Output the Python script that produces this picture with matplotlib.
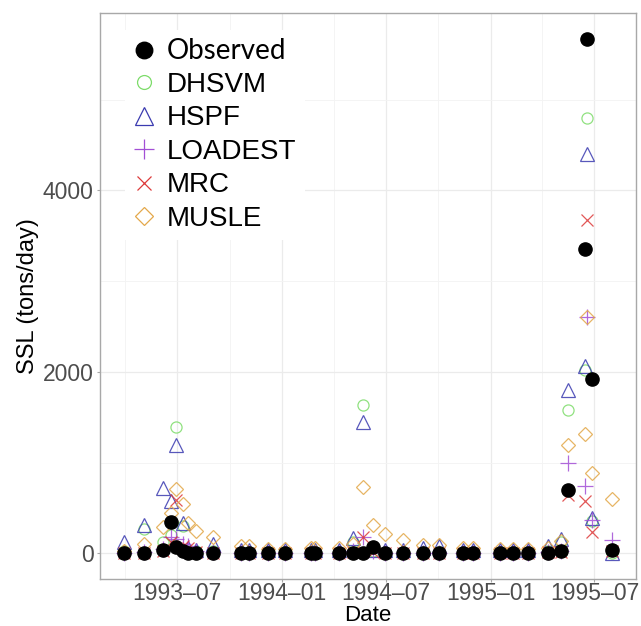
import matplotlib
matplotlib.use("Agg")
import matplotlib.pyplot as plt
import matplotlib.dates as mdates
import numpy as np
import pandas as pd

# Sampling dates and suspended sediment load (tons/day) per source
dates = [
    "1993-03-31", "1993-05-04", "1993-06-07", "1993-06-20", "1993-06-29",
    "1993-07-11", "1993-07-21", "1993-08-03", "1993-09-02", "1993-10-21",
    "1993-11-04", "1993-12-07", "1994-01-05", "1994-02-21", "1994-02-28",
    "1994-04-11", "1994-05-04", "1994-05-23", "1994-06-09", "1994-06-30",
    "1994-08-01", "1994-09-04", "1994-10-03", "1994-11-13", "1994-11-30",
    "1995-01-17", "1995-02-09", "1995-03-06", "1995-04-11", "1995-05-04",
    "1995-05-16", "1995-06-14", "1995-06-18", "1995-06-26", "1995-07-31",
]
observed = [0, 0, 36, 341, 73, 29, 7, 0, 0, 0, 0, 0, 0, 0, 0, 0, 0, 4,
            66, 0, 0, 0, 0, 0, 0, 0, 0, 0, 0, 25, 697, 3358, 5670, 1920, 36]
dhsvm = [30, 264, 120, 200, 1394, 300, 40, 20, 20, 10, 10, 10, 10, 10, 10,
         10, 120, 1633, 20, 10, 10, 10, 10, 10, 10, 10, 10, 10, 30, 120,
         1575, 2015, 4796, 360, 0]
hspf = [121, 311, 715, 579, 1192, 330, 60, 40, 100, 40, 40, 40, 40, 40, 40,
        40, 165, 1449, 40, 40, 40, 60, 80, 40, 40, 40, 40, 40, 80, 154,
        1795, 2068, 4404, 392, 0]
loadest = [5, 10, 50, 183, 160, 100, 80, 20, 10, 5, 5, 5, 5, 5, 5, 5, 20,
           183, 20, 5, 5, 5, 5, 5, 5, 5, 5, 5, 10, 20, 995, 745, 2600, 372,
           142]
mrc = [0, 5, 30, 120, 587, 80, 60, 10, 5, 0, 0, 0, 0, 0, 0, 0, 10, 183, 10,
       0, 0, 0, 0, 0, 0, 0, 0, 0, 10, 10, 640, 578, 3670, 238, 20]
musle = [20, 102, 293, 447, 704, 543, 337, 249, 176, 78, 78, 45, 45, 60, 60,
         60, 100, 733, 312, 212, 146, 91, 91, 60, 60, 50, 50, 50, 60, 130,
         1198, 1313, 2600, 888, 596]

x_ticks = ["1993-07-01", "1994-01-01", "1994-07-01", "1995-01-01", "1995-07-01"]
x_minor = ["1993-04-01", "1993-10-01", "1994-04-01", "1994-10-01", "1995-04-01"]
y_ticks = [0, 2000, 4000]
y_minor = [1000, 3000, 5000]

d = pd.to_datetime(dates)

plt.rcParams["font.family"] = ["Liberation Sans", "DejaVu Sans"]

fig = plt.figure(figsize=(6.41, 6.26), dpi=100)
ax = fig.add_axes([100 / 641, 1 - 579 / 626, 536 / 641, 566 / 626])

# model series: (label, values, marker, colour, size)
models = [
    ("DHSVM", dhsvm, "o", "#7ddc6a", 8.0),
    ("HSPF", hspf, "^", "#3b3bb0", 10.5),
    ("LOADEST", loadest, "+", "#a34fd6", 11.0),
    ("MRC", mrc, "x", "#dd3a3a", 8.5),
    ("MUSLE", musle, "D", "#e3a84a", 7.2),
]

handles = []
obs_line, = ax.plot(d, observed, linestyle="none", marker="o", ms=9.5,
                    color="black", zorder=5, label="Observed")
handles.append(obs_line)
for name, vals, mk, col, ms in models:
    ln, = ax.plot(d, vals, linestyle="none", marker=mk, ms=ms,
                  markerfacecolor="none", markeredgecolor=col, mew=0.9,
                  alpha=0.85, zorder=3, label=name)
    handles.append(ln)

# axis ranges with 5% padding around the data
all_vals = np.concatenate([observed, dhsvm, hspf, loadest, mrc, musle])
ymin, ymax = all_vals.min(), all_vals.max()
ypad = 0.05 * (ymax - ymin)
ax.set_ylim(ymin - ypad, ymax + ypad)
xnum = mdates.date2num(d)
xpad = 0.05 * (xnum.max() - xnum.min())
ax.set_xlim(xnum.min() - xpad, xnum.max() + xpad)

ax.set_xticks(mdates.date2num(pd.to_datetime(x_ticks)))
ax.set_xticklabels([t[:7].replace("-", "\u2013") for t in x_ticks])
ax.set_xticks(mdates.date2num(pd.to_datetime(x_minor)), minor=True)
ax.set_yticks(y_ticks)
ax.set_yticklabels([str(v) for v in y_ticks])
ax.set_yticks(y_minor, minor=True)

ax.grid(which="major", color="#ebebeb", lw=0.9, zorder=0)
ax.grid(which="minor", color="#f3f3f3", lw=0.6, zorder=0)
ax.set_axisbelow(True)
for s in ax.spines.values():
    s.set_color("#a8a8a8")
    s.set_linewidth(1.0)
ax.tick_params(which="major", length=2.5, width=0.8, color="#a8a8a8",
               labelsize=16.5, labelcolor="#4d4d4d")
ax.tick_params(axis="x", which="major", pad=0)
ax.tick_params(axis="y", which="major", pad=2)
ax.tick_params(which="minor", length=0)

ax.set_xlabel("Date", fontsize=16, labelpad=0)
ax.set_ylabel("SSL (tons/day)", fontsize=17, labelpad=3)

leg = ax.legend(handles=handles, loc="upper left",
                bbox_to_anchor=((125 - 100) / 536, (579 - 30) / 566),
                fontsize=20, frameon=True, fancybox=False, borderpad=0.3,
                labelspacing=0.27, handlelength=0.8, handletextpad=0.4,
                borderaxespad=0, markerscale=1.25)
leg.get_frame().set_facecolor("white")
leg.get_frame().set_edgecolor("none")
leg.get_frame().set_alpha(1.0)
leg.get_texts()[0].set_family(["Lato", "DejaVu Sans"])
for lh in leg.legend_handles:
    lh.set_alpha(1.0)

fig.savefig("out.png", dpi=100)
